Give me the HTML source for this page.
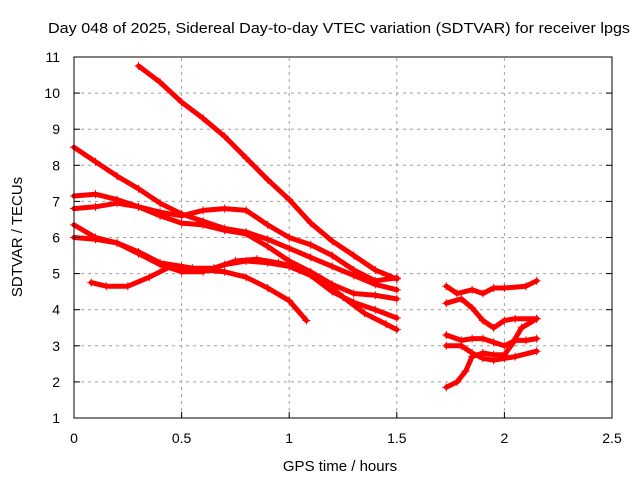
<!DOCTYPE html>
<html><head><meta charset="utf-8"><style>
body{margin:0;background:#fff;}
svg text{font-family:"Liberation Sans",sans-serif;font-size:14px;fill:#000;}
</style></head><body>
<svg id="chart" width="640" height="480" xmlns="http://www.w3.org/2000/svg">
<rect width="640" height="480" fill="#fff"/>
<g id="grid"></g>
<g id="series"></g>
<rect x="74" y="57" width="538" height="361" fill="none" stroke="#000" stroke-width="1"/>
<g id="ticks"></g>
<text x="48" y="33" textLength="582" lengthAdjust="spacingAndGlyphs" style="font-size:15px">Day 048 of 2025, Sidereal Day-to-day VTEC variation (SDTVAR) for receiver lpgs</text>
<text x="340" y="471" text-anchor="middle" style="font-size:15px">GPS time / hours</text>
<text transform="translate(22,237) rotate(-90)" text-anchor="middle" style="font-size:15px">SDTVAR / TECUs</text>
</svg>
<script>
const xTicks=[0,0.5,1,1.5,2,2.5];
const xTickLabels=["0","0.5","1","1.5","2","2.5"];
const yTicks=[1,2,3,4,5,6,7,8,9,10,11];
const yTickLabels=["1","2","3","4","5","6","7","8","9","10","11"];
const trackA=[[0.3,10.75],[0.4,10.3],[0.5,9.75],[0.6,9.3],[0.7,8.8],[0.8,8.2],[0.9,7.6],[1.0,7.05],[1.1,6.4],[1.2,5.9],[1.3,5.5],[1.4,5.1],[1.5,4.85]];
const trackB=[[0,8.5],[0.1,8.1],[0.2,7.7],[0.3,7.35],[0.4,6.95],[0.5,6.65],[0.6,6.45],[0.7,6.25],[0.8,6.15],[0.9,5.95],[1.0,5.7],[1.1,5.45],[1.2,5.2],[1.3,4.95],[1.4,4.7],[1.5,4.55]];
const trackC=[[0,7.15],[0.1,7.2],[0.2,7.05],[0.3,6.85],[0.4,6.6],[0.5,6.4],[0.6,6.35],[0.7,6.2],[0.8,6.1],[0.9,5.75],[1.0,5.35],[1.1,5.05],[1.2,4.7],[1.3,4.45],[1.4,4.4],[1.5,4.3]];
const trackD=[[0,6.8],[0.1,6.85],[0.2,6.95],[0.3,6.85],[0.4,6.7],[0.5,6.6],[0.6,6.75],[0.7,6.8],[0.8,6.75],[0.9,6.35],[1.0,6.0],[1.1,5.8],[1.2,5.5],[1.3,5.1],[1.4,4.8],[1.5,4.88]];
const trackE=[[0,6.35],[0.1,6.0],[0.2,5.85],[0.3,5.55],[0.4,5.25],[0.5,5.05],[0.6,5.05],[0.7,5.25],[0.8,5.35],[0.9,5.3],[1.0,5.2],[1.1,4.95],[1.2,4.5],[1.3,4.2],[1.4,4.0],[1.5,3.77]];
const trackF=[[0,6.0],[0.1,5.95],[0.2,5.85],[0.3,5.6],[0.4,5.3],[0.5,5.2],[0.6,5.1],[0.7,5.05],[0.8,4.9],[0.9,4.6],[1.0,4.25],[1.08,3.7]];
const trackG=[[0.08,4.75],[0.15,4.65],[0.25,4.65],[0.35,4.9],[0.45,5.2],[0.55,5.15],[0.65,5.15],[0.75,5.35],[0.85,5.4],[0.95,5.3],[1.05,5.15],[1.15,4.85],[1.25,4.35],[1.35,3.9],[1.45,3.6],[1.5,3.45]];
const trackR1=[[1.73,4.65],[1.78,4.45],[1.85,4.55],[1.9,4.45],[1.95,4.6],[2.0,4.6],[2.1,4.65],[2.15,4.8]];
const trackR2=[[1.73,4.18],[1.8,4.3],[1.85,4.05],[1.9,3.7],[1.95,3.5],[2.0,3.7],[2.05,3.75],[2.15,3.75]];
const trackR3=[[1.73,3.3],[1.8,3.15],[1.85,3.2],[1.9,3.2],[1.95,3.1],[2.0,3.0],[2.05,3.15],[2.1,3.15],[2.15,3.2]];
const trackR4=[[1.73,3.0],[1.8,3.0],[1.85,2.8],[1.9,2.65],[1.95,2.6],[2.0,2.65],[2.05,2.7],[2.15,2.85]];
const trackR5=[[1.73,1.85],[1.78,2.0],[1.82,2.3],[1.85,2.7],[1.9,2.8],[1.95,2.75],[2.0,2.75],[2.03,3.0],[2.08,3.5],[2.15,3.75]];
const tracks=[trackA,trackB,trackC,trackD,trackE,trackF,trackG,trackR1,trackR2,trackR3,trackR4,trackR5];

const NS="http://www.w3.org/2000/svg";
const X0=74,X1=612,Y0=418,Y1=57;
function sx(v){return X0+(v-0)/(2.5-0)*(X1-X0);}
function sy(v){return Y0-(v-1)/(11-1)*(Y0-Y1);}
function mk(tag,attrs,parent){const e=document.createElementNS(NS,tag);for(const k in attrs)e.setAttribute(k,attrs[k]);parent.appendChild(e);return e;}
const grid=document.getElementById('grid'),ticks=document.getElementById('ticks'),series=document.getElementById('series');
xTicks.forEach((t,i)=>{
  const x=sx(t);
  if(i>0&&i<xTicks.length-1){const g=mk('line',{x1:x,x2:x,y1:Y0,y2:Y1,stroke:'#a0a0a0','stroke-dasharray':'3,4'},grid);
  
  }
  const tk=mk('line',{x1:x,x2:x,y1:Y0,y2:Y0-6,stroke:'#000'},ticks);
  
  
  const tx=mk('text',{x:x,y:Y0+25,'text-anchor':'middle'},ticks);tx.textContent=xTickLabels[i];
  
  
});
yTicks.forEach((t,i)=>{
  const y=sy(t);
  if(i>0&&i<yTicks.length-1){const g=mk('line',{x1:X0,x2:X1,y1:y,y2:y,stroke:'#a0a0a0','stroke-dasharray':'3,4'},grid);
  
  }
  const tk=mk('line',{x1:X0,x2:X0+6,y1:y,y2:y,stroke:'#000'},ticks);
  
  
  const tk2=mk('line',{x1:X1,x2:X1-6,y1:y,y2:y,stroke:'#000'},ticks);
  
  
  const tx=mk('text',{x:X0-14,y:y+5,'text-anchor':'end'},ticks);tx.textContent=yTickLabels[i];
  
  
});
tracks.forEach((tr,ti)=>{
  const g=mk('g',{},series);
  
  
  const pts=tr.map(p=>sx(p[0]).toFixed(1)+','+sy(p[1]).toFixed(1)).join(' ');
  const pl=mk('polyline',{points:pts,fill:'none',stroke:'#ff0000','stroke-width':5,'stroke-linejoin':'round','stroke-linecap':'round'},g);
  
  
  tr.forEach(p=>{
    const x=sx(p[0]),y=sy(p[1]);
    const m=mk('path',{d:`M${x-4},${y}h8M${x},${y-4}v8`,stroke:'#ff0000','stroke-width':1},g);
    
    
  });
});
</script>
</body></html>
